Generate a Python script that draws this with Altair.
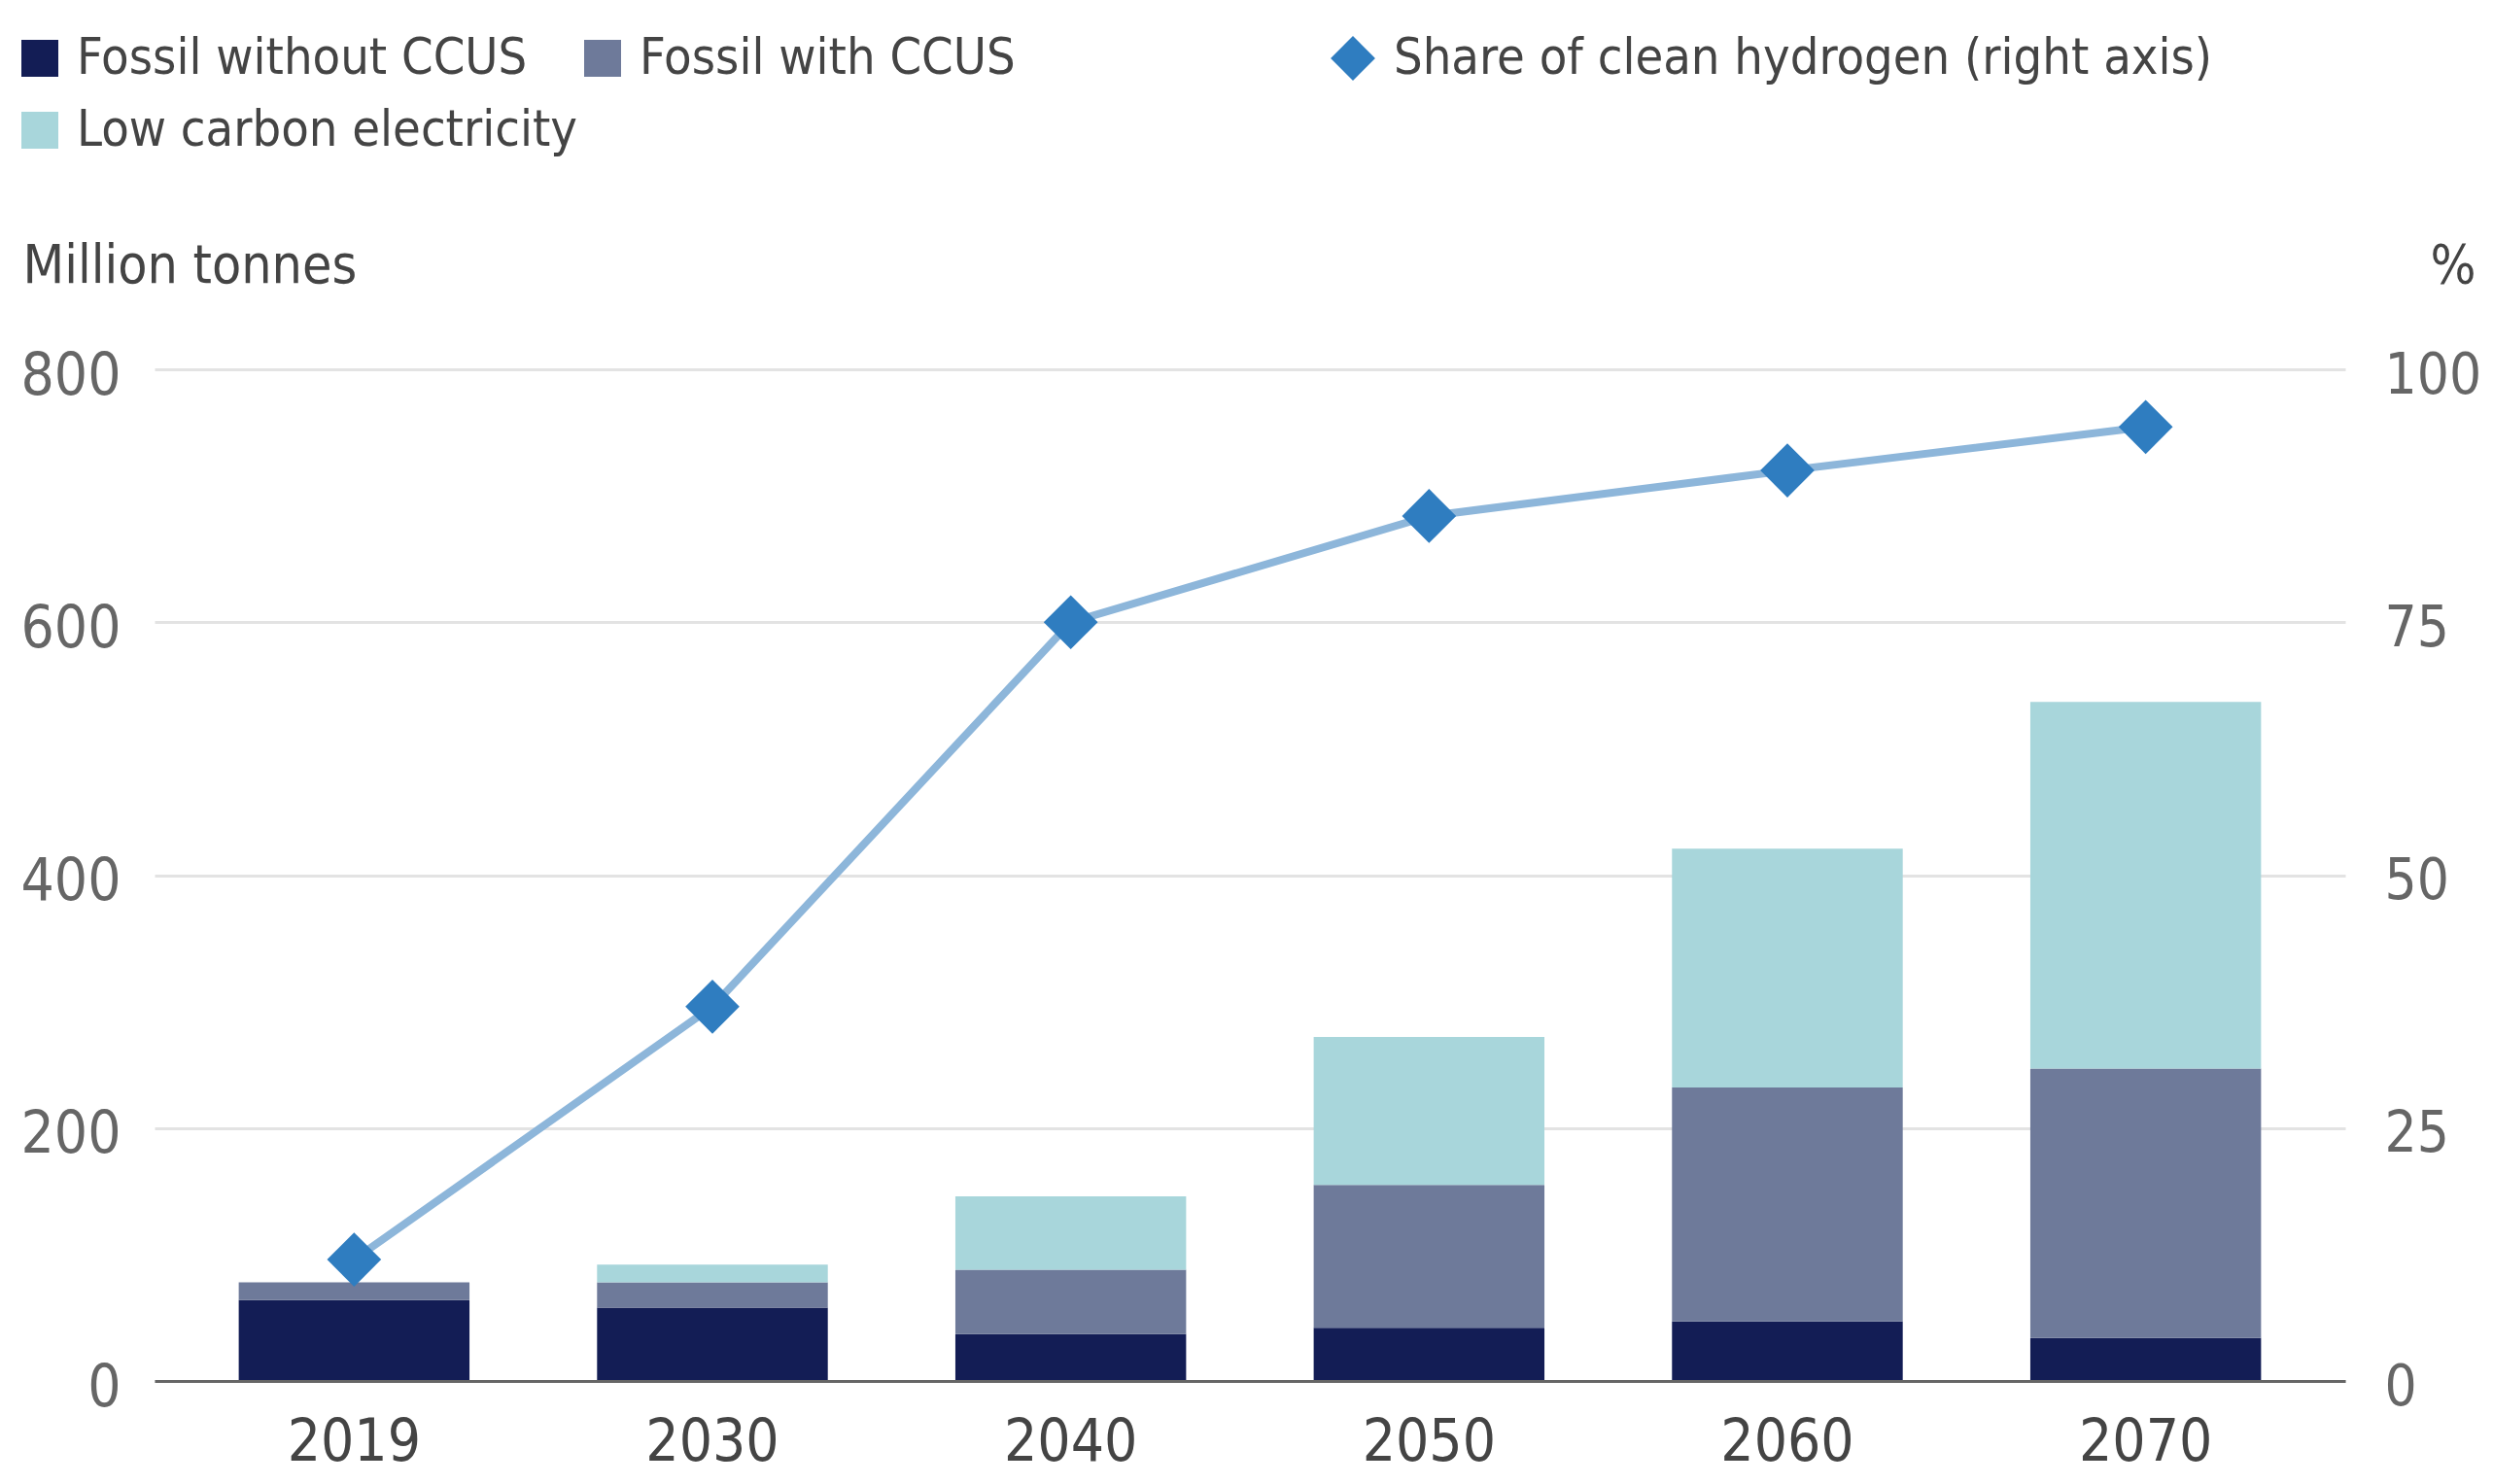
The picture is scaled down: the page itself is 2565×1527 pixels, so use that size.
import altair as alt
import pandas as pd

# ---- data ----
years = ["2019", "2030", "2040", "2050", "2060", "2070"]
fossil_without = [64, 58, 37, 42, 47, 34]
fossil_with = [14, 20, 51, 113, 185, 213]
low_carbon = [0, 14, 58, 117, 189, 290]
share_clean = [12, 37, 75, 85.5, 90, 94.3]

series_names = ["Fossil without CCUS", "Fossil with CCUS", "Low carbon electricity"]
series_colors = ["#131d55", "#6e7a9a", "#a8d6db"]
share_name = "Share of clean hydrogen (right axis)"
left_ticks = [0, 200, 400, 600, 800]
right_ticks = [0, 25, 50, 75, 100]

rows = []
for i, yr in enumerate(years):
    for k, (name, vals) in enumerate(zip(series_names, [fossil_without, fossil_with, low_carbon])):
        rows.append({"year": yr, "series": name, "value": vals[i], "order": k})
bars_df = pd.DataFrame(rows)
share_df = pd.DataFrame({"year": years, "share": share_clean, "series": [share_name] * len(years)})

TEXT_FONT = "DejaVu Sans Condensed, DejaVu Sans, sans-serif"
NUM_FONT = "DejaVu Sans Condensed, DejaVu Sans, sans-serif"

x_enc = alt.X(
    "year:N", sort=years,
    scale=alt.Scale(paddingInner=0.356, paddingOuter=0.235),
    axis=alt.Axis(title=None, labelAngle=0, labelFont=NUM_FONT, labelFontSize=60,
                  labelColor="#444444", labelPadding=34, ticks=False, domain=True,
                  domainColor="#666666", domainWidth=3, zindex=1, grid=False),
)

bars = alt.Chart(bars_df).mark_bar().encode(
    x=x_enc,
    y=alt.Y("value:Q", stack="zero", scale=alt.Scale(domain=[0, 800], nice=False),
            axis=alt.Axis(orient="left", values=left_ticks, title="Million tonnes",
                          titleAngle=0, titleAlign="left", titleBaseline="middle",
                          titleX=-136, titleY=-107, titleFont=TEXT_FONT, titleFontSize=55,
                          titleFontWeight="normal", titleColor="#444444",
                          labelFont=NUM_FONT, labelFontSize=60, labelColor="#666666",
                          labelPadding=35, labelBaseline="middle", labelOffset=7,
                          ticks=False, domain=False, grid=True, gridColor="#e3e3e3",
                          gridWidth=3)),
    color=alt.Color("series:N", scale=alt.Scale(domain=series_names, range=series_colors),
                    legend=alt.Legend(title=None, orient="none", legendX=-144, legendY=-346,
                                      direction="horizontal", columns=2,
                                      symbolType="square", symbolSize=1444, symbolStrokeWidth=0,
                                      symbolOpacity=1,
                                      labelFont=TEXT_FONT, labelFontSize=52, labelColor="#444444",
                                      labelOffset=12, columnPadding=-34, rowPadding=22,
                                      padding=0, labelLimit=0)),
    order=alt.Order("order:Q", sort="ascending"),
)

y_right = alt.Y("share:Q", scale=alt.Scale(domain=[0, 100], nice=False),
                axis=alt.Axis(orient="right", values=right_ticks, title="%",
                              titleAngle=0, titleAlign="right", titleBaseline="middle",
                              titleX=134, titleY=-107, titleFont=TEXT_FONT, titleFontSize=55,
                              titleFontWeight="normal", titleColor="#444444",
                              labelFont=NUM_FONT, labelFontSize=58, labelColor="#666666",
                              labelPadding=40, labelAlign="left", labelBaseline="middle",
                              labelOffset=7, ticks=False, domain=False, grid=False))

line = alt.Chart(share_df).mark_line(color="#8db6da", strokeWidth=8).encode(
    x=x_enc, y=y_right,
)

points = alt.Chart(share_df).mark_point(filled=True, size=3100, opacity=1, color="#2f7dc0").encode(
    x=x_enc, y=y_right,
    shape=alt.Shape("series:N", scale=alt.Scale(domain=[share_name], range=["diamond"]),
                    legend=alt.Legend(title=None, orient="none", legendX=1207, legendY=-346,
                                      symbolSize=2100, symbolFillColor="#2f7dc0",
                                      symbolStrokeColor="#2f7dc0", symbolStrokeWidth=0,
                                      symbolOpacity=1,
                                      labelFont=TEXT_FONT, labelFontSize=52, labelColor="#444444",
                                      labelOffset=16, padding=0, labelLimit=0)),
)

chart = alt.layer(bars, alt.layer(line, points)).resolve_scale(y="independent").properties(
    width=2254, height=1041,
    autosize=alt.AutoSizeParams(type="none"),
    padding={"left": 151, "top": 372, "right": 144, "bottom": 98},
    background="white",
).configure_view(stroke=None)

chart.save("out.html", embed_options={"renderer": "svg", "actions": False})
